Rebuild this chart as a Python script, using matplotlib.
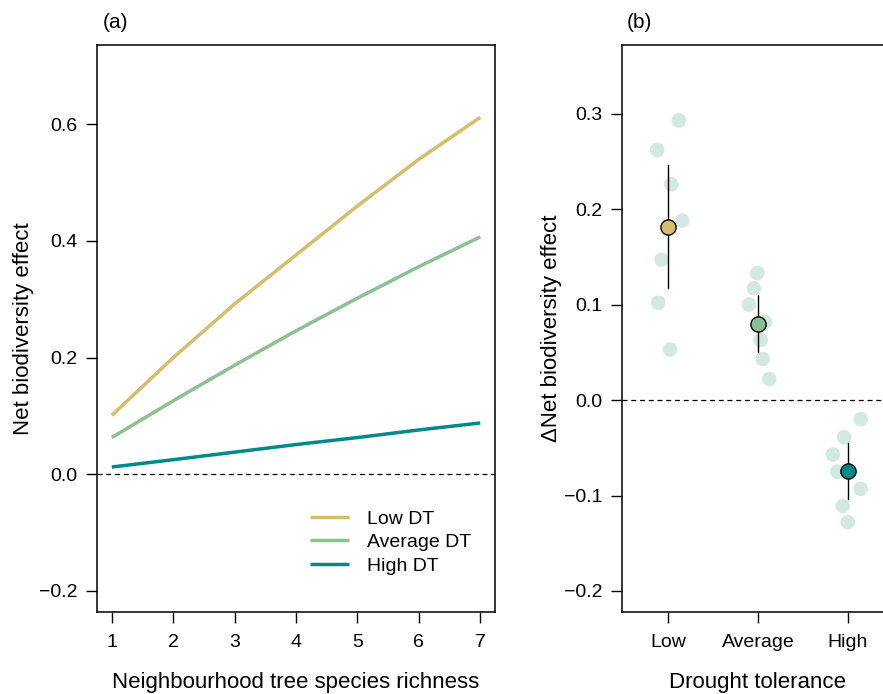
import numpy as np
import matplotlib.pyplot as plt

plt.rcParams['font.family'] = ['Liberation Sans', 'DejaVu Sans']

# ===== Panel (a) data: predicted NBE vs neighbourhood richness =====
richness = [1, 2, 3, 4, 5, 6, 7]
nbe_low = [0.101, 0.200, 0.292, 0.376, 0.460, 0.540, 0.612]
nbe_avg = [0.063, 0.126, 0.187, 0.246, 0.302, 0.356, 0.407]
nbe_high = [0.0125, 0.025, 0.038, 0.051, 0.063, 0.076, 0.088]
series_labels = ["Low DT", "Average DT", "High DT"]
colors = ["#D2BE6B", "#8CC08E", "#00898A"]

# ===== Panel (b) data: delta NBE per drought tolerance class =====
dt_classes = ["Low", "Average", "High"]
dt_means = [0.181, 0.080, -0.0746]
dt_lower = [0.117, 0.050, -0.1033]
dt_upper = [0.246, 0.110, -0.0455]
pts_low = [0.293, 0.262, 0.226, 0.188, 0.147, 0.102, 0.053]
pts_avg = [0.133, 0.117, 0.100, 0.082, 0.063, 0.043, 0.022]
pts_high = [-0.020, -0.039, -0.057, -0.075, -0.093, -0.111, -0.128]
jit_low = [0.122, -0.119, 0.037, 0.159, -0.070, -0.108, 0.022]
jit_avg = [-0.008, -0.044, -0.100, 0.078, 0.030, 0.052, 0.126]
jit_high = [0.141, -0.044, -0.167, -0.119, 0.141, -0.059, -0.003]

fig = plt.figure(figsize=(8.83, 6.94), dpi=100)
ax1 = fig.add_axes([0.1099, 0.1182, 0.4507, 0.8170])
ax2 = fig.add_axes([0.7044, 0.1182, 0.3080, 0.8170])

tick_fs = 14
lab_fs = 16

# --- (a) ---
ax1.axhline(0, color="black", lw=0.9, ls=(0, (4, 3)), zorder=1)
for ys, lab, c in zip([nbe_low, nbe_avg, nbe_high], series_labels, colors):
    ax1.plot(richness, ys, color=c, lw=2.5, label=lab, solid_capstyle="butt")
ax1.set_xlim(0.76, 7.24)
ax1.set_ylim(-0.236, 0.736)
ax1.set_xticks(richness)
ax1.set_yticks([-0.2, 0.0, 0.2, 0.4, 0.6])
ax1.set_yticklabels(["\u22120.2", "0.0", "0.2", "0.4", "0.6"])
ax1.set_xlabel("Neighbourhood tree species richness", fontsize=lab_fs, labelpad=15)
ax1.set_ylabel("Net biodiversity effect", fontsize=lab_fs, labelpad=4)
ax1.legend(loc="lower right", bbox_to_anchor=(0.985, 0.035), frameon=False,
           fontsize=tick_fs, handlelength=2.0, handletextpad=0.95, labelspacing=0.3)
ax1.text(0.014, 1.022, "(a)", transform=ax1.transAxes, fontsize=15,
         ha="left", va="bottom")

# --- (b) ---
ax2.axhline(0, color="black", lw=0.9, ls=(0, (4, 3)), zorder=1)
for i, (pts, jit) in enumerate(zip([pts_low, pts_avg, pts_high],
                                   [jit_low, jit_avg, jit_high])):
    xs = np.array(jit) + i + 1
    ax2.scatter(xs, pts, s=110, color="#D3E8E0", edgecolors="none", zorder=2)
for i in range(3):
    ax2.plot([i + 1, i + 1], [dt_lower[i], dt_upper[i]], color="black", lw=1.0, zorder=3)
    ax2.scatter([i + 1], [dt_means[i]], s=120, color=colors[i],
                edgecolors="black", linewidths=1.0, zorder=4)
ax2.set_xlim(0.49, 3.51)
ax2.set_ylim(-0.222, 0.372)
ax2.set_xticks([1, 2, 3])
ax2.set_xticklabels(dt_classes)
ax2.set_yticks([-0.2, -0.1, 0.0, 0.1, 0.2, 0.3])
ax2.set_yticklabels(["\u22120.2", "\u22120.1", "0.0", "0.1", "0.2", "0.3"])
ax2.set_xlabel("Drought tolerance", fontsize=lab_fs, labelpad=15)
ax2.set_ylabel("\u0394Net biodiversity effect", fontsize=lab_fs, labelpad=1.5)
ax2.text(0.016, 1.022, "(b)", transform=ax2.transAxes, fontsize=15,
         ha="left", va="bottom")

for ax in (ax1, ax2):
    for s in ax.spines.values():
        s.set_linewidth(1.1)
    ax.tick_params(axis="both", direction="out", length=8, width=1.0,
                   labelsize=tick_fs, colors="black")
    ax.tick_params(axis="x", pad=8)
    ax.tick_params(axis="y", pad=6)

fig.savefig("out.png", dpi=100)
